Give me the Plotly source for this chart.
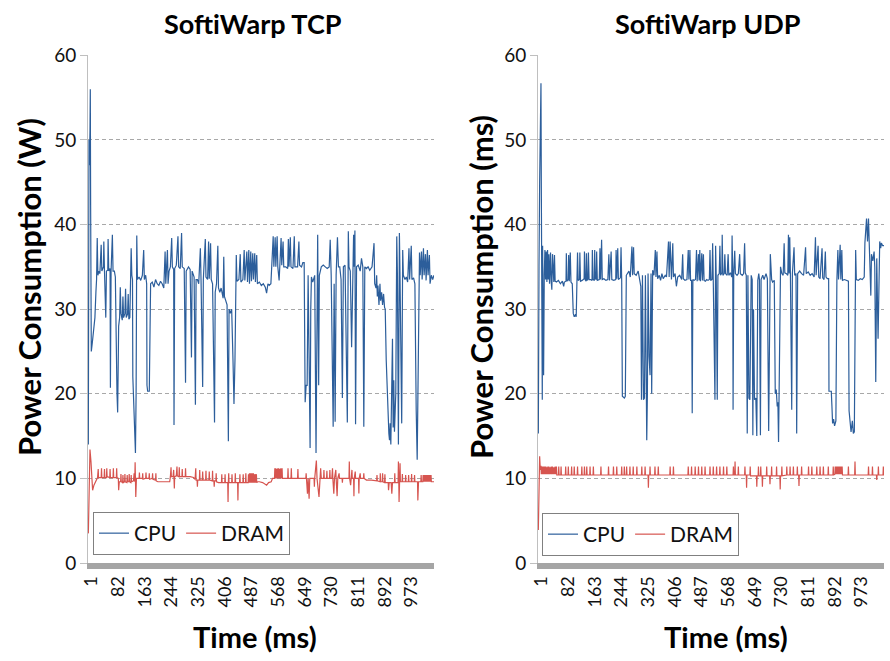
import plotly.graph_objects as go

# ---------------- data (time in ms, power in W) ----------------
tick_vals = [1, 82, 163, 244, 325, 406, 487, 568, 649, 730, 811, 892, 973]
tick_text = [str(v) for v in tick_vals]

tcp_cpu = [(1,14),(2,30),(3,50),(4,47),(6,51),(7,56),(8,42),(9,30),(10,25),(13,26),(17,28),(21,29),(24,32),(26,33.5),(28,38.4),(30,34),(33,34.5),(36,34.2),(40,37.6),(42,34.5),(47,35),(48,38),(50,34.5),(54,29),(56,34.5),(60,34.6),(61,38.3),(63,34.5),(67,34.8),(68,20.7),(70,34.5),(74,38.8),(76,34.5),(80,34.5),(83,33.8),(84,31),(86,21),(88,20),(90,17.8),(92,22),(93,28),(96,29),(98,32.6),(100,29.5),(104,28.7),(106,31.5),(108,29),(112,29.5),(114,32.4),(116,29),(120,29.4),(122,31.8),(124,28.8),(127,29),(129,33),(131,37.2),(133,34),(135,33.5),(136,22),(138,19),(140,16),(142,14),(144,13),(146,20),(148,38.7),(150,33.5),(155,33.8),(160,33.4),(165,34),(169,37),(171,33.5),(175,34),(178,33),(179,21),(181,20.3),(186,20.3),(188,32),(190,33),(195,33.2),(200,32.6),(205,33.5),(210,33),(215,32.8),(220,33.3),(225,33),(230,32.5),(234,36.8),(236,33),(241,37),(243,33),(246,34.5),(250,35),(254,38.4),(256,35),(260,34.7),(261,16.3),(263,34.8),(268,35.2),(273,38.6),(275,35),(280,34.8),(284,39),(286,35),(292,34.8),(296,21.3),(298,34.5),(305,35),(310,34.7),(314,24.3),(316,34.5),(322,33.8),(326,18.7),(328,33.5),(332,33.5),(336,33),(341,37.2),(343,33.5),(348,20.8),(350,33.5),(356,38.3),(358,33.8),(363,33.5),(366,38),(368,33.6),(372,37.8),(374,33.5),(378,33),(384,16.6),(386,32),(390,33),(394,37.5),(396,32.5),(400,32),(404,32.5),(410,31.3),(412,36.2),(414,31.5),(418,31),(422,30.5),(426,14.4),(428,30),(432,29.5),(436,30),(440,24),(443,18.8),(446,24),(448,33.5),(450,36.4),(452,33.3),(458,33.5),(462,36.5),(464,33.2),(470,33.5),(474,37),(476,33.4),(482,36.8),(484,33.2),(488,37),(490,33),(494,36.8),(496,33.3),(500,36.6),(502,33.5),(506,36.6),(508,33.2),(512,36.4),(514,33),(520,33.2),(526,32.8),(532,33),(538,32.6),(542,31.9),(546,33),(550,32.8),(555,33),(558,35),(562,38.6),(564,35),(568,38.5),(570,35),(574,38.6),(576,35),(580,33.4),(582,35),(586,38.4),(588,35.2),(592,38),(594,35),(600,35),(606,34.8),(608,38.3),(610,35),(614,38.5),(616,35),(622,34.8),(626,38.6),(628,35),(636,35),(640,38),(642,35.2),(648,35),(652,35.5),(656,35.5),(659,19),(662,21),(665,21),(668,34),(671,24),(674,13.6),(676,30),(678,33.8),(682,33.2),(688,34),(692,13),(694,30),(697,38.8),(700,21),(702,34),(708,35),(714,35.2),(720,35),(726,34.8),(732,35),(735,38.2),(738,34),(741,25.5),(744,16.1),(747,33),(750,16.7),(753,34),(757,38.5),(760,35),(764,35),(768,33.5),(772,19.5),(775,35),(780,35.2),(787,16.6),(790,39.2),(792,35),(796,34.5),(800,25.5),(803,35),(806,38.8),(808,35),(810,39.3),(812,16.4),(815,35),(820,35.2),(826,34.5),(830,36),(834,35),(837,16.1),(840,35),(845,34.8),(850,35),(855,34.6),(862,35),(868,37.8),(870,33),(874,32.5),(876,34),(878,31.5),(880,32.8),(883,30.5),(886,33),(888,31),(891,32),(894,30.5),(897,31.8),(900,30.2),(902,30),(905,24),(908,20),(911,17.4),(913,15.3),(915,14.5),(917,16.5),(919,14),(921,18),(924,26.5),(926,16),(928,21.6),(930,15.5),(934,20),(937,38.6),(939,34),(942,14),(945,39),(947,33.5),(952,16.5),(955,37),(957,34),(962,33.5),(966,33.8),(970,33.2),(974,37.2),(976,33.5),(981,37.5),(983,33.5),(988,33.7),(992,33),(994,18.5),(996,18),(999,12.2),(1002,25),(1004,34.5),(1006,36.7),(1008,34),(1012,36.8),(1014,33.5),(1018,37.2),(1020,34),(1024,36.5),(1026,33.4),(1030,37),(1032,34),(1036,36.4),(1038,33),(1042,34),(1046,33.5),(1050,34)]

tcp_dram = [(1,3.5),(3,8),(6,13.4),(9,12),(12,9),(14,8.6),(18,9.2),(22,9.5),(26,9.8),(29,10.1),(31,11.1),(32,10.1),(40,10.1),(41,11.2),(42,10.1),(49,10.1),(50,11.1),(51,10.1),(56,10.1),(57,11.2),(58,10.2),(66,10.1),(67,11.1),(68,10.1),(76,10.1),(77,11.2),(78,10.1),(86,10.1),(87,11.2),(88,10.1),(92,10),(93,8.6),(95,9.6),(99,9.6),(100,10.5),(101,9.6),(105,9.5),(106,10.4),(107,9.5),(111,9.6),(112,10.5),(113,9.6),(118,9.5),(119,10.4),(120,9.6),(124,9.6),(125,10.5),(126,9.6),(130,9.5),(131,10.4),(132,9.6),(138,9.7),(140,10.6),(142,9.6),(143,11.9),(145,7.8),(147,10),(150,10),(155,10),(156,10.7),(157,10),(165,10),(166,10.6),(167,9.9),(175,10),(176,10.7),(177,10),(185,10),(186,10.6),(187,9.9),(195,10),(196,10.6),(197,9.9),(205,9.8),(206,10.6),(207,9.7),(212,9.6),(230,9.6),(248,9.6),(250,10.2),(252,11.3),(253,10.2),(258,10.2),(260,11),(261,10.2),(262,8.8),(263,10.2),(268,10.3),(270,11.4),(271,10.3),(276,10.2),(277,11.3),(278,10.2),(285,10.2),(286,11.1),(287,10.2),(295,10.2),(296,11.2),(297,10.2),(310,10.2),(320,10.1),(325,9.9),(327,11.2),(328,9.8),(331,9.8),(332,9.0),(333,9.8),(338,9.8),(339,11),(340,9.8),(347,9.8),(348,10.8),(349,9.8),(357,9.8),(358,10.9),(359,9.8),(367,9.8),(368,10.8),(369,9.8),(377,9.7),(378,10.9),(379,9.7),(382,9.7),(383,9.0),(384,9.7),(388,9.7),(389,10.6),(390,9.6),(396,9.5),(400,9.5),(405,9.5),(406,10.5),(407,9.5),(415,9.5),(416,10.5),(417,9.5),(424,9.5),(425,7.2),(426,9.6),(427,10.6),(428,9.5),(436,9.5),(437,10.5),(438,9.5),(446,9.5),(447,10.6),(448,9.5),(454,9.5),(455,7.4),(456,9.5),(460,9.5),(461,10.5),(462,9.5),(470,9.5),(471,10.5),(472,9.5),(478,9.5),(479,10.6),(480,9.5),(486,9.5),(487,10.5),(488,9.5),(490,10.6),(491,9.5),(493,10.6),(494,9.5),(496,10.6),(497,9.5),(499,10.6),(500,9.5),(502,10.6),(503,9.5),(505,10.5),(506,9.5),(508,10.5),(509,9.5),(511,10.5),(512,9.5),(515,9.6),(520,9.6),(530,9.5),(542,9.2),(548,9.5),(556,9.6),(560,10),(566,10),(567,11.2),(568,10),(570,11.2),(571,10),(573,11.1),(574,10),(576,11.2),(577,10),(579,11.2),(580,10),(582,11.1),(583,10),(585,11.2),(586,10),(589,11.2),(590,10),(600,10),(606,10),(607,11.2),(608,10),(616,10),(617,11.2),(618,10),(636,10),(637,11.1),(638,10),(650,10),(661,10),(662,10.6),(663,10),(666,8.2),(668,10),(671,7.6),(673,10),(686,10),(687,9),(688,10),(693,12.1),(695,10),(701,7.8),(703,10),(706,11.2),(708,10),(715,10),(716,11),(717,10),(724,10),(725,10.9),(726,10),(733,10),(734,11),(735,10),(740,10),(742,11.2),(743,10),(746,8.2),(748,10),(752,11),(753,10),(756,7.9),(758,10),(762,10.6),(763,10),(771,10),(772,9.5),(773,10),(780,10),(792,10),(793,12),(794,10),(797,9.2),(799,10),(801,11),(802,10),(806,10),(807,7.9),(808,10),(811,10.8),(812,10),(821,10),(822,8.2),(823,10),(826,10.6),(827,10),(836,10),(837,10.6),(838,10),(845,9.8),(860,9.8),(876,9.7),(877,10.4),(878,9.7),(886,9.6),(887,10.6),(888,9.6),(893,9.6),(894,10.6),(895,9.6),(900,9.5),(901,10.5),(902,9.5),(911,9.5),(912,8.6),(914,9.5),(920,9.5),(922,8.2),(924,9.5),(930,9.5),(931,10.6),(932,9.5),(941,9.5),(942,12),(943,10),(944,7.2),(946,10),(947,11.8),(948,9.6),(953,9.6),(954,10.5),(955,9.6),(963,9.6),(964,10.4),(965,9.6),(972,9.6),(973,10.4),(974,9.6),(981,9.6),(982,10.5),(983,9.6),(990,9.6),(991,10.4),(992,9.6),(1000,9.6),(1001,7.4),(1003,9.6),(1010,9.6),(1011,10.4),(1012,9.6),(1016,9.6),(1017,10.4),(1018,9.6),(1020,10.4),(1021,9.6),(1023,10.4),(1024,9.6),(1026,10.4),(1027,9.6),(1029,10.4),(1030,9.6),(1032,10.4),(1033,9.6),(1035,10.4),(1036,9.6),(1038,10.4),(1039,9.6),(1041,10.4),(1042,9.6),(1045,9.6),(1050,9.6)]

udp_cpu = [(1,15.3),(2,20),(3,35),(5,45),(7,50),(8,48.8),(9,56.7),(10,45),(11,38),(13,19.3),(14,37.5),(15,30),(16,36.5),(17,22.2),(19,34),(21,37),(23,33.5),(25,36.8),(27,33.2),(29,37),(31,33.5),(33,36.5),(35,33),(38,36.7),(40,33.3),(42,32.3),(44,36.5),(46,33.5),(48,33.2),(50,36.4),(52,33.3),(56,33.2),(62,33.4),(68,33),(74,33.3),(78,32.7),(80,33.2),(85,33.3),(86,36.6),(88,33.3),(92,33.5),(93,36.4),(95,33.3),(98,36.7),(100,33.2),(104,33),(107,29.5),(110,29.1),(113,29.3),(116,29.1),(118,33),(120,36.7),(122,33.4),(126,33.5),(127,36.7),(129,33.3),(134,33.4),(140,33.6),(141,36.8),(143,33.5),(146,33.3),(147,36.6),(149,33.4),(152,33.6),(153,36.7),(155,33.5),(160,33.5),(164,33.4),(165,37),(167,33.5),(171,33.4),(172,37),(174,33.6),(177,33.5),(178,36.8),(180,33.4),(186,33.5),(188,37.2),(190,33.5),(193,38.2),(195,33.5),(200,33.6),(206,33.4),(212,33.5),(215,36.5),(217,33.4),(222,36.8),(224,33.5),(230,33.4),(236,33.5),(237,37),(239,33.6),(242,37.2),(244,33.5),(250,33.7),(252,37.3),(254,33.4),(256,19.7),(262,19.5),(265,19.7),(268,34),(272,34.2),(276,34.5),(280,33.8),(285,37.4),(287,34),(290,37.3),(292,34.2),(298,34),(304,34.5),(308,33.8),(312,32.7),(314,19.3),(317,34),(320,19.3),(323,19.5),(326,34),(328,17.5),(330,14.5),(332,20),(334,34.2),(337,24.4),(340,22.2),(343,34.2),(345,20),(348,34.6),(352,34),(356,37),(358,33.8),(361,36.8),(363,33.6),(368,34),(372,33.4),(376,34.2),(380,33.6),(386,34),(390,33.8),(396,38),(398,33.8),(401,38),(403,34.5),(405,33.5),(409,37.8),(411,33.8),(416,34.2),(420,32.7),(424,33.8),(430,34),(436,33.5),(439,36.5),(441,33.6),(446,33.4),(452,33.5),(456,37),(458,33.5),(461,37),(463,33.4),(466,33.4),(468,17.7),(470,33.5),(474,33.4),(478,33.5),(481,37),(483,33.3),(487,36.5),(489,33.4),(491,37),(493,33.3),(497,36.6),(499,33.4),(502,36.5),(504,33.4),(508,33.3),(512,33.5),(516,33.4),(520,33.5),(522,37),(524,33.4),(528,33.5),(530,37.8),(532,33),(534,26),(537,19.3),(539,37.5),(541,33.5),(544,19.3),(546,34),(550,34.2),(552,37.5),(554,34),(558,34.3),(559,38.8),(561,34),(565,34.2),(567,36.5),(569,34.2),(574,34),(577,36.5),(579,34),(584,34.3),(588,33.8),(589,38.7),(591,34),(592,18.1),(594,34.2),(597,36.9),(599,34.2),(604,34),(608,34.2),(612,36.5),(614,34.2),(620,34),(624,34.2),(627,37.8),(629,34.3),(632,34),(634,20),(635,15.3),(637,34),(640,19.5),(643,19.3),(647,34),(650,33.5),(652,15.1),(654,30),(657,19.3),(661,19.5),(664,15),(667,33.4),(670,34.2),(672,33.5),(675,15.1),(677,33.5),(682,34),(686,33.5),(692,34.2),(696,33.6),(700,15.6),(705,36.5),(709,33.5),(712,33.2),(717,33.4),(720,20),(723,20.5),(726,18.5),(728,19),(730,14.3),(734,31.5),(736,35),(740,34.2),(744,34),(747,37.8),(749,34.3),(754,34.2),(758,34),(760,38.8),(762,34.2),(764,38.5),(766,34),(770,18.1),(772,34.2),(777,37.3),(779,34),(783,34.2),(785,15.3),(788,34.2),(794,34.5),(800,34.2),(806,34),(812,37.3),(814,34.2),(820,34.4),(826,34),(832,34.2),(838,33.8),(842,38.5),(844,34),(850,37.5),(852,33.8),(856,33.6),(862,37.2),(864,33.7),(868,33.5),(872,36.8),(874,33.8),(878,33.6),(882,33.6),(883,20.3),(890,20.3),(892,18.5),(894,16.5),(897,17),(900,16.2),(904,16.8),(907,33.4),(910,37),(912,33.5),(917,37.6),(919,33.5),(922,37),(924,33.4),(930,33.5),(936,33.4),(942,33.3),(944,18),(947,17),(950,15.5),(954,16.8),(957,15.3),(960,15.5),(962,33.5),(964,37),(966,33.5),(972,33.4),(978,33.6),(984,33.5),(990,33.8),(992,37.8),(997,40.7),(1000,38),(1003,40.7),(1005,38),(1007,37.5),(1010,31.6),(1012,36.5),(1016,35.7),(1020,36.8),(1022,35),(1025,21.4),(1028,36),(1032,26.5),(1035,37),(1037,38),(1040,37.2),(1042,37.8),(1046,37.5),(1050,37.5)]

udp_dram = [(1,3.9),(3,7),(5,12.6),(7,11),(9,11.5),(10,10.5),(12,11.4),(13,10.5),(15,11.4),(16,10.5),(18,11.4),(19,10.5),(21,11.4),(22,10.5),(24,11.4),(25,10.5),(27,11.3),(28,10.5),(30,11.4),(31,10.5),(33,11.4),(34,10.5),(36,11.3),(37,10.5),(40,11.4),(41,10.5),(44,11.4),(45,10.5),(48,11.3),(49,10.5),(52,11.4),(53,10.5),(56,11.4),(57,10.4),(62,10.4),(63,11.4),(64,10.4),(69,10.4),(70,11.4),(71,10.4),(83,10.4),(84,11.4),(85,10.4),(91,10.4),(92,11.4),(93,10.4),(101,10.4),(102,11.4),(103,10.4),(109,10.4),(110,11.4),(111,10.4),(119,10.4),(120,11.4),(121,10.4),(132,10.4),(133,11.4),(134,10.4),(140,10.4),(141,11.4),(142,10.4),(147,10.4),(148,11.4),(149,10.4),(157,10.4),(158,11.4),(159,10.4),(167,10.4),(168,11.4),(169,10.4),(190,10.4),(191,11.4),(192,10.4),(213,10.4),(214,11.4),(215,10.4),(228,10.4),(229,11.4),(230,10.4),(238,10.4),(239,11.4),(240,10.4),(253,10.4),(254,11.4),(255,10.4),(261,10.4),(262,11.4),(263,10.4),(268,10.4),(269,11.4),(270,10.4),(278,10.4),(279,11.4),(280,10.4),(288,10.4),(289,11.4),(290,10.4),(299,10.4),(300,11.4),(301,10.4),(314,10.4),(315,11.4),(316,10.4),(324,10.4),(325,11.4),(326,10.4),(334,10.4),(335,8.9),(336,10.4),(339,10.4),(340,11.4),(341,10.4),(354,10.4),(355,11.4),(356,10.4),(364,10.4),(365,11.4),(366,10.4),(400,10.4),(401,11.4),(402,10.4),(410,10.4),(411,11.4),(412,10.4),(455,10.4),(456,11.4),(457,10.4),(465,10.4),(466,11.4),(467,10.4),(476,10.4),(477,11.4),(478,10.4),(486,10.4),(487,11.4),(488,10.4),(496,10.4),(497,11.4),(498,10.4),(506,10.4),(507,11.4),(508,10.4),(521,10.4),(522,11.4),(523,10.4),(531,10.4),(532,11.4),(533,10.4),(541,10.4),(542,11.4),(543,10.4),(551,10.4),(552,11.4),(553,10.4),(562,10.4),(563,11.4),(564,10.4),(572,10.4),(573,11.4),(574,10.4),(592,10.4),(593,11.4),(594,10.4),(597,10.4),(598,12),(599,10.4),(607,10.4),(608,11.4),(609,10.4),(627,10.4),(628,11.4),(629,10.4),(632,10.4),(633,8.9),(634,10.4),(643,10.4),(644,11.4),(645,10.3),(663,10.3),(664,9.0),(665,10.3),(668,10.3),(669,11.4),(670,10.3),(675,10.3),(676,11.4),(677,10.3),(680,10.3),(681,9.0),(682,10.3),(693,10.3),(694,11.4),(695,10.3),(703,10.3),(704,9.3),(705,10.3),(708,10.3),(709,11.4),(710,10.3),(723,10.3),(724,11.4),(725,10.3),(734,10.3),(735,8.7),(736,10.3),(739,10.3),(740,11.4),(741,10.3),(754,10.4),(755,11.4),(756,10.4),(764,10.4),(765,11.4),(766,10.4),(774,10.4),(775,11.4),(776,10.4),(786,10.4),(787,11.4),(788,10.4),(791,10.4),(792,9.1),(793,10.4),(799,10.4),(800,11.4),(801,10.4),(820,10.4),(821,11.4),(822,10.4),(830,10.4),(831,11.4),(832,10.4),(845,10.4),(846,11.4),(847,10.4),(855,10.4),(856,11.4),(857,10.4),(865,10.4),(866,11.4),(867,10.4),(880,10.4),(881,11.4),(882,10.4),(895,10.4),(896,11.4),(897,10.4),(901,10.5),(902,11.4),(903,10.5),(905,11.4),(906,10.5),(908,11.4),(909,10.5),(911,11.4),(912,10.5),(914,11.4),(915,10.5),(917,11.4),(918,10.5),(920,11.4),(921,10.5),(923,11.4),(924,10.4),(941,10.4),(942,11.4),(943,10.4),(961,10.4),(962,12),(963,10.4),(1002,10.4),(1003,11.4),(1004,10.4),(1014,10.4),(1015,11.4),(1016,10.4),(1027,10.4),(1028,9.8),(1029,10.4),(1032,10.4),(1033,11.4),(1034,10.4),(1047,10.4),(1048,11.4),(1049,10.4),(1050,10.4)]

CPU_COLOR = "#2c5e9b"
DRAM_COLOR = "#d6544f"
FONT = "Lato"

fig = go.Figure()

def add(series, name, color, xa, ya, legend, show):
    fig.add_trace(go.Scatter(
        x=[p[0] for p in series], y=[p[1] for p in series],
        mode="lines", name=name, line=dict(color=color, width=1.2),
        xaxis=xa, yaxis=ya, legend=legend, showlegend=show, hoverinfo="skip"))

add(tcp_cpu, "CPU", CPU_COLOR, "x", "y", "legend", True)
add(tcp_dram, "DRAM", DRAM_COLOR, "x", "y", "legend", True)
add(udp_cpu, "CPU", CPU_COLOR, "x2", "y2", "legend2", True)
add(udp_dram, "DRAM", DRAM_COLOR, "x2", "y2", "legend2", True)

W, H = 890, 661
def px_x(v):
    return v / W
def px_y(v):
    return 1 - v / H

xcommon = dict(range=[0, 1050], tickmode="array", tickvals=tick_vals, ticktext=tick_text,
               tickangle=-90, ticks="", showline=True, linewidth=6, linecolor="#a5a5a5",
               showgrid=False, zeroline=False, ticklabelshift=3, automargin=False,
               tickfont=dict(family=FONT, size=18, color="#111"))
ycommon = dict(range=[0, 60], tickmode="linear", tick0=0, dtick=10, showgrid=True,
               gridcolor="#a8a8a8", griddash="4px,3px", gridwidth=1, showline=True,
               linecolor="#bfbfbf", linewidth=1, ticks="outside", ticklen=7,
               tickcolor="#bfbfbf", zeroline=False, automargin=False,
               tickfont=dict(family=FONT, size=19, color="#111"))

legend_common = dict(xanchor="left", yanchor="top", orientation="h", bgcolor="white",
                     bordercolor="#808080", borderwidth=1, itemwidth=30,
                     font=dict(family=FONT, size=21, color="#111"))

fig.update_layout(
    width=W, height=H, margin=dict(l=0, r=0, t=0, b=0, autoexpand=False),
    paper_bgcolor="white", plot_bgcolor="white",
    xaxis=dict(domain=[px_x(88), px_x(434)], anchor="y", **xcommon),
    xaxis2=dict(domain=[px_x(538), px_x(884)], anchor="y2", **xcommon),
    yaxis=dict(domain=[px_y(563), px_y(55.3)], anchor="x", **ycommon),
    yaxis2=dict(domain=[px_y(563), px_y(55.3)], anchor="x2", **ycommon),
    legend=dict(x=px_x(93), y=px_y(512), **legend_common),
    legend2=dict(x=px_x(542), y=px_y(513), **legend_common),
    showlegend=True,
)

ann = [
    dict(text="<b>SoftiWarp TCP</b>", x=px_x(253), y=px_y(23), size=27),
    dict(text="<b>SoftiWarp UDP</b>", x=px_x(708), y=px_y(23), size=27),
    dict(text="<b>Time (ms)</b>", x=px_x(255), y=px_y(636), size=29),
    dict(text="<b>Time (ms)</b>", x=px_x(726), y=px_y(636), size=29),
]
for a in ann:
    fig.add_annotation(text=a["text"], x=a["x"], y=a["y"], xref="paper", yref="paper",
                       xanchor="center", yanchor="middle", showarrow=False,
                       font=dict(family=FONT, size=a["size"], color="#000"))
for txt, xp in [("<b>Power Consumption (W)</b>", 29), ("<b>Power Consumption (ms)</b>", 481)]:
    fig.add_annotation(text=txt, x=px_x(xp), y=px_y(287), xref="paper", yref="paper",
                       xanchor="center", yanchor="middle", showarrow=False, textangle=-90,
                       font=dict(family=FONT, size=31, color="#000"))

fig.write_html("out.html")
